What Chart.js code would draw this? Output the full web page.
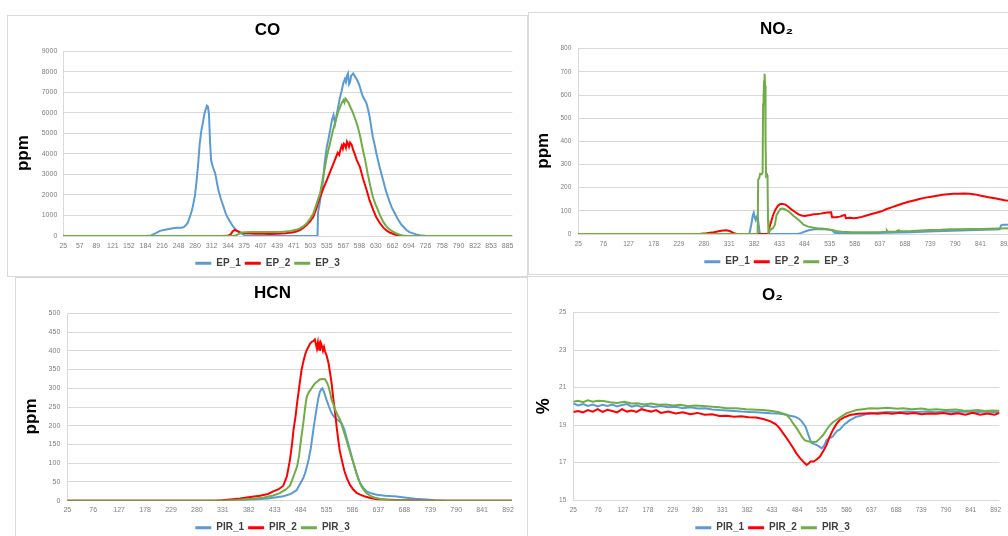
<!DOCTYPE html>
<html><head><meta charset="utf-8">
<script src="https://cdn.jsdelivr.net/npm/chart.js@4/dist/chart.umd.min.js"></script>
<style>
html,body{margin:0;padding:0;background:#fff;overflow:hidden;width:1008px;height:536px;}
.panel{position:absolute;border:1px solid #d9d9d9;box-sizing:border-box;}
canvas{position:absolute;}
</style></head><body>
<div class="panel" style="left:7px;top:15px;width:521px;height:262px"></div>
<div class="panel" style="left:528px;top:12px;width:600px;height:263px"></div>
<div class="panel" style="left:15px;top:277px;width:513px;height:300px"></div>
<div class="panel" style="left:527px;top:276px;width:600px;height:300px"></div>
<canvas id="cCO" style="left:7px;top:15px" width="521" height="264"></canvas>
<canvas id="cNO2" style="left:528px;top:12px" width="497" height="265"></canvas>
<canvas id="cHCN" style="left:15px;top:277px" width="515" height="266"></canvas>
<canvas id="cO2" style="left:527px;top:275px" width="491" height="268"></canvas>
<script>
// ---------- tick labels ----------
const coXTicks = [25,57,89,121,152,184,216,248,280,312,344,375,407,439,471,503,535,567,598,630,662,694,726,758,790,822,853,885];
const gasXTicks = [25,76,127,178,229,280,331,382,433,484,535,586,637,688,739,790,841,892];
const coYTicks = [0,1000,2000,3000,4000,5000,6000,7000,8000,9000];
const no2YTicks = [0,100,200,300,400,500,600,700,800];
const hcnYTicks = [0,50,100,150,200,250,300,350,400,450,500];
const o2YTicks = [15,17,19,21,23,25];
const epLabels = ['EP_1','EP_2','EP_3'];
const pirLabels = ['PIR_1','PIR_2','PIR_3'];

// ---------- CO (ppm) ----------
const coEp1 = [[25,0],[184,0],[195,30],[200,90],[206,170],[212,250],[222,300],[232,350],[240,390],[248,400],[254,400],[258,430],[262,520],[266,650],[270,940],[274,1250],[277,1600],[280,2000],[283,2700],[286,3500],[289,4500],[292,5100],[295,5500],[298,5950],[301,6200],[303,6350],[305,6300],[307,5900],[309,4600],[311,3700],[314,3400],[319,3050],[325,2250],[330,1800],[335,1430],[340,1050],[344,860],[349,650],[354,450],[359,300],[364,210],[370,110],[376,40],[385,10],[400,0],[517,0],[518,1150],[522,1700],[525,2200],[528,2750],[531,3600],[535,4350],[538,4700],[541,5100],[545,5650],[548,5900],[551,5480],[554,5900],[557,6300],[560,6700],[564,7100],[567,7450],[570,7650],[572,7500],[574,7800],[576,7920],[578,7400],[580,7500],[582,7800],[586,7920],[589,7800],[592,7670],[596,7480],[599,7270],[602,7000],[605,6780],[609,6600],[612,6450],[615,6150],[618,5800],[621,5300],[624,4830],[628,4400],[631,4020],[634,3700],[637,3370],[641,3000],[644,2720],[647,2420],[650,2150],[655,1780],[660,1430],[665,1180],[670,940],[675,720],[680,535],[685,400],[689,290],[695,190],[702,130],[708,80],[715,40],[725,10],[735,0],[894,0]];
const coEp2 = [[25,0],[330,0],[343,10],[349,80],[353,230],[357,300],[361,250],[366,190],[372,150],[380,130],[395,115],[410,105],[425,100],[440,115],[455,130],[468,170],[476,220],[483,290],[490,400],[496,535],[503,720],[509,940],[515,1350],[522,1910],[528,2300],[535,2720],[541,3100],[548,3540],[552,3800],[556,4050],[559,3950],[561,4180],[564,4400],[566,4250],[568,4500],[570,4450],[572,4300],[574,4600],[576,4500],[578,4350],[580,4550],[583,4450],[586,4200],[589,4000],[593,3700],[599,3370],[605,2800],[612,2240],[618,1720],[625,1260],[631,900],[638,620],[644,420],[651,260],[657,170],[664,100],[670,40],[677,10],[685,0],[894,0]];
const coEp3 = [[25,0],[350,0],[358,20],[364,90],[369,150],[375,180],[390,190],[410,200],[430,200],[450,210],[465,240],[475,300],[483,370],[490,480],[496,620],[503,850],[509,1100],[515,1550],[522,2080],[528,2900],[535,3860],[541,4500],[547,5160],[552,5600],[557,6050],[561,6300],[564,6500],[567,6620],[569,6500],[571,6700],[573,6650],[575,6550],[577,6500],[579,6370],[582,6200],[585,6050],[590,5700],[595,5320],[600,4800],[605,4180],[610,3600],[614,3050],[619,2450],[624,1910],[629,1550],[634,1260],[639,950],[644,700],[650,480],[656,330],[663,210],[670,120],[676,60],[682,30],[690,10],[700,0],[894,0]];

// ---------- NO2 (ppm) ----------
const no2Ep1 = [[25,0],[372,0],[376,40],[379,80],[381,92],[383,70],[385,60],[387,75],[389,72],[391,40],[393,5],[395,0],[470,0],[478,5],[486,12],[495,17],[505,20],[515,21],[525,20],[535,18],[541,15],[545,5],[560,3],[600,3],[650,5],[700,8],[750,12],[800,15],[850,18],[880,20],[883,38],[886,40],[900,40]];
const no2Ep2 = [[25,0],[270,0],[285,3],[300,8],[315,14],[325,16],[332,13],[340,5],[346,0],[411,0],[413,30],[416,50],[420,80],[425,105],[430,122],[435,130],[440,130],[445,127],[450,120],[458,105],[465,95],[472,85],[478,80],[484,78],[490,80],[496,82],[503,85],[510,86],[517,88],[524,91],[530,93],[538,94],[540,72],[548,72],[556,75],[562,80],[566,82],[568,68],[576,70],[584,68],[592,70],[600,74],[610,80],[620,86],[630,92],[640,98],[651,108],[662,116],[673,124],[685,133],[697,140],[708,146],[719,152],[730,157],[741,161],[753,165],[764,169],[775,172],[786,174],[797,174],[808,175],[819,174],[830,171],[840,166],[850,162],[860,158],[870,154],[880,150],[890,146],[900,143]];
const no2Ep3 = [[25,0],[387,0],[389,5],[390,235],[392,240],[394,260],[397,258],[399,265],[400,560],[401,600],[402,660],[403,692],[404,640],[405,400],[406,250],[408,255],[409,240],[410,60],[411,5],[413,12],[416,20],[420,25],[424,40],[427,80],[431,95],[435,108],[440,110],[445,106],[450,100],[456,90],[462,78],[468,68],[475,55],[482,40],[490,33],[500,28],[510,25],[520,24],[530,21],[540,17],[550,12],[560,10],[580,8],[600,8],[620,8],[640,9],[650,10],[651,16],[653,10],[670,11],[673,14],[675,10],[676,16],[678,12],[700,13],[720,15],[740,17],[760,18],[780,20],[800,21],[820,22],[840,22],[860,23],[880,24],[900,25]];

// ---------- HCN (ppm) ----------
const hcnPir1 = [[25,0],[330,0],[360,1],[390,3],[420,6],[450,12],[465,18],[476,28],[483,45],[489,60],[493,74],[499,105],[504,140],[509,189],[513,225],[516,251],[519,275],[522,291],[525,298],[527,300],[530,290],[535,269],[540,250],[545,233],[550,224],[555,217],[560,212],[565,206],[570,190],[575,165],[581,135],[588,100],[594,72],[601,47],[607,35],[614,25],[624,19],[634,16],[650,13],[673,11],[692,8],[710,5],[731,3],[750,1],[770,0],[900,0]];
const hcnPir2 = [[25,0],[315,0],[330,1],[350,4],[365,6],[385,10],[404,13],[420,18],[430,25],[440,30],[450,40],[457,65],[463,109],[467,150],[470,189],[474,225],[477,260],[480,290],[483,322],[486,350],[490,375],[493,390],[496,402],[500,412],[503,420],[506,424],[509,426],[512,430],[514,418],[516,406],[518,422],[519,410],[521,418],[522,400],[524,420],[526,412],[528,400],[530,410],[532,398],[535,388],[539,366],[542,340],[545,313],[548,275],[552,233],[555,195],[558,162],[561,133],[565,109],[570,80],[575,60],[581,42],[588,29],[594,21],[601,16],[611,11],[621,7],[635,4],[647,3],[670,2],[700,1],[720,0],[900,0]];
const hcnPir3 = [[25,0],[330,0],[360,2],[390,5],[410,8],[430,14],[443,20],[455,30],[463,40],[470,65],[477,91],[481,120],[483,144],[486,175],[490,215],[493,250],[496,277],[500,290],[503,295],[508,305],[512,313],[517,318],[522,324],[527,325],[532,324],[536,315],[539,304],[542,288],[545,269],[549,255],[552,242],[557,228],[562,215],[568,189],[573,167],[578,144],[583,122],[588,100],[593,78],[598,56],[603,40],[608,29],[614,20],[621,13],[630,8],[640,5],[660,2],[690,1],[710,0],[900,0]];

// ---------- O2 (%) ----------
const o2Pir1 = [[25,20.15],[35,20.05],[45,20.12],[55,20.02],[65,20.1],[75,20.0],[85,20.08],[95,20.02],[105,20.1],[115,20.0],[125,20.07],[135,20.12],[145,19.98],[155,20.05],[165,19.97],[175,20.03],[190,19.97],[205,20.02],[220,19.95],[235,19.98],[250,19.9],[265,19.95],[280,19.88],[295,19.9],[310,19.83],[325,19.8],[340,19.78],[355,19.75],[370,19.72],[385,19.7],[400,19.68],[415,19.66],[430,19.63],[445,19.62],[460,19.57],[470,19.5],[480,19.45],[488,19.35],[494,19.2],[498,19.05],[502,18.9],[506,18.6],[510,18.3],[514,18.05],[518,18.0],[524,17.94],[530,17.85],[535,17.76],[540,17.9],[545,18.2],[550,18.3],[555,18.35],[558,18.4],[562,18.55],[567,18.7],[572,18.75],[577,18.9],[582,19.05],[586,19.12],[592,19.25],[599,19.35],[606,19.45],[615,19.5],[625,19.58],[634,19.63],[650,19.66],[670,19.7],[690,19.68],[710,19.73],[730,19.7],[750,19.72],[770,19.68],[790,19.72],[810,19.7],[830,19.73],[850,19.68],[870,19.72],[885,19.7],[900,19.68]];
const o2Pir2 = [[25,19.7],[35,19.75],[45,19.68],[55,19.8],[65,19.72],[75,19.85],[85,19.7],[95,19.82],[105,19.75],[115,19.68],[125,19.85],[135,19.72],[145,19.78],[155,19.7],[165,19.85],[175,19.78],[185,19.72],[195,19.8],[205,19.65],[220,19.72],[235,19.62],[250,19.68],[265,19.58],[280,19.65],[295,19.55],[310,19.58],[325,19.48],[340,19.5],[355,19.45],[370,19.47],[385,19.42],[400,19.4],[415,19.32],[430,19.2],[440,19.05],[448,18.85],[456,18.56],[463,18.3],[470,18.03],[477,17.75],[483,17.49],[490,17.25],[497,17.05],[501,16.95],[504,16.87],[508,16.95],[512,17.05],[518,17.05],[524,17.15],[531,17.31],[538,17.6],[545,17.94],[551,18.35],[558,18.74],[565,19.05],[572,19.27],[580,19.4],[593,19.54],[610,19.6],[634,19.63],[650,19.6],[665,19.65],[680,19.6],[695,19.66],[710,19.6],[725,19.64],[740,19.58],[755,19.62],[770,19.6],[785,19.65],[800,19.58],[815,19.63],[830,19.55],[845,19.65],[860,19.55],[875,19.62],[890,19.55],[900,19.65]];
const o2Pir3 = [[25,20.25],[35,20.3],[45,20.22],[55,20.32],[65,20.25],[75,20.3],[87,20.28],[100,20.22],[115,20.18],[130,20.25],[145,20.15],[156,20.16],[170,20.1],[185,20.15],[200,20.08],[215,20.1],[230,20.05],[245,20.08],[260,20.0],[275,20.05],[292,20.02],[310,19.98],[325,19.95],[340,19.9],[360,19.9],[380,19.85],[400,19.82],[415,19.8],[429,19.77],[445,19.7],[455,19.62],[463,19.54],[470,19.35],[476,19.1],[483,18.85],[490,18.56],[495,18.35],[500,18.2],[505,18.15],[511,18.11],[518,18.1],[524,18.11],[530,18.25],[538,18.47],[545,18.75],[552,19.0],[558,19.15],[565,19.27],[575,19.45],[586,19.63],[596,19.72],[606,19.8],[620,19.85],[634,19.9],[650,19.88],[670,19.92],[690,19.87],[702,19.9],[720,19.85],[740,19.88],[755,19.82],[770,19.85],[790,19.8],[810,19.83],[825,19.78],[839,19.77],[855,19.8],[870,19.75],[885,19.78],[900,19.77]];

const FONT = "'Liberation Sans', Arial, sans-serif";
const COLORS = ['#5B9BD5', '#FF0000', '#70AD47'];

function toXY(pairs) { return pairs.map(p => ({ x: p[0], y: p[1] })); }

function makeChart(id, c) {
  return new Chart(document.getElementById(id), {
    type: 'line',
    data: {
      datasets: c.series.map((s, i) => ({
        label: c.labels[i], data: toXY(s),
        borderColor: COLORS[i], backgroundColor: COLORS[i],
        borderWidth: 2, pointRadius: 0, pointHoverRadius: 0, tension: 0, fill: false,
        order: 3 - i
      }))
    },
    options: {
      responsive: false, animation: false, devicePixelRatio: 1, events: [],
      layout: { padding: { left: 0, right: 0, top: 0, bottom: c.pb } },
      plugins: {
        title: { display: true, text: c.title, color: '#000',
          font: { family: FONT, size: 17, weight: 'bold' }, padding: { top: c.t1, bottom: c.t2 } },
        legend: { position: 'bottom',
          labels: { usePointStyle: true, pointStyle: 'line', pointStyleWidth: 16, padding: 4,
            color: '#404040', font: { family: FONT, size: 10, weight: 'bold' },
            sort: (a, b) => a.datasetIndex - b.datasetIndex,
            generateLabels: (chart) => Chart.defaults.plugins.legend.labels.generateLabels(chart)
              .map(it => Object.assign(it, { lineWidth: 3 })) } },
        tooltip: { enabled: false }
      },
      scales: {
        x: { type: 'linear', min: 25, max: c.xMax,
          afterBuildTicks: s => { s.ticks = c.xTicks.map(v => ({ value: v })); },
          afterFit: s => { s.height = c.xH; },
          grid: { display: false, drawTicks: false }, border: { display: false },
          ticks: { autoSkip: false, maxRotation: 0, minRotation: 0, padding: c.xPad,
            color: '#7f7f7f', font: { family: FONT, size: c.tf }, callback: v => String(v) } },
        y: { type: 'linear', min: c.yTicks[0], max: c.yTicks[c.yTicks.length - 1],
          afterBuildTicks: s => { s.ticks = c.yTicks.map(v => ({ value: v })); },
          afterFit: s => { s.width = c.yW; },
          grid: { color: '#d9d9d9', lineWidth: 1, drawTicks: false },
          border: { display: true, color: '#d9d9d9' },
          ticks: { padding: c.yPad, color: '#7f7f7f', font: { family: FONT, size: c.tf }, callback: v => String(v) },
          title: { display: true, text: c.yTitle, color: '#000',
            font: { family: FONT, size: c.ytSize, weight: 'bold' }, padding: { top: c.ytPad, bottom: 0 } } },
        spacer: { type: 'linear', position: 'right', display: true,
          grid: { display: false, drawTicks: false }, border: { display: false },
          ticks: { display: false }, afterFit: s => { s.width = c.R; } }
      }
    }
  });
}

makeChart('cCO', { title: 'CO', labels: epLabels, series: [coEp1, coEp2, coEp3],
  xTicks: coXTicks, xMax: 894, yTicks: coYTicks, yTitle: 'ppm    ', ytSize: 17, ytPad: 6,
  t1: 5.6, t2: 10.3, pb: 0.7, xH: 18.3, xPad: 5.8, yW: 56.3, yPad: 6, R: 15.7, tf: 7 });
makeChart('cNO2', { title: 'NO\u2082', labels: epLabels, series: [no2Ep1, no2Ep2, no2Ep3],
  xTicks: gasXTicks, xMax: 900, yTicks: no2YTicks, yTitle: 'ppm    ', ytSize: 17, ytPad: 5.2,
  t1: 7.1, t2: 9.2, pb: 0.3, xH: 18.7, xPad: 6.1, yW: 50.3, yPad: 7, R: 15.5, tf: 6.5 });
makeChart('cHCN', { title: 'HCN', labels: pirLabels, series: [hcnPir1, hcnPir2, hcnPir3],
  xTicks: gasXTicks, xMax: 900, yTicks: hcnYTicks, yTitle: 'ppm    ', ytSize: 17, ytPad: 6.5,
  t1: 6.1, t2: 9.8, pb: 0.3, xH: 18, xPad: 5.1, yW: 52.3, yPad: 7, R: 17.9, tf: 7 });
makeChart('cO2', { title: 'O\u2082', labels: pirLabels, series: [o2Pir1, o2Pir2, o2Pir3],
  xTicks: gasXTicks, xMax: 900, yTicks: o2YTicks, yTitle: '%', ytSize: 18, ytPad: 6.2,
  t1: 10.6, t2: 6.7, pb: 0.3, xH: 18.7, xPad: 6.8, yW: 46.3, yPad: 7, R: 18.5, tf: 6.5 });
</script>
</body></html>
